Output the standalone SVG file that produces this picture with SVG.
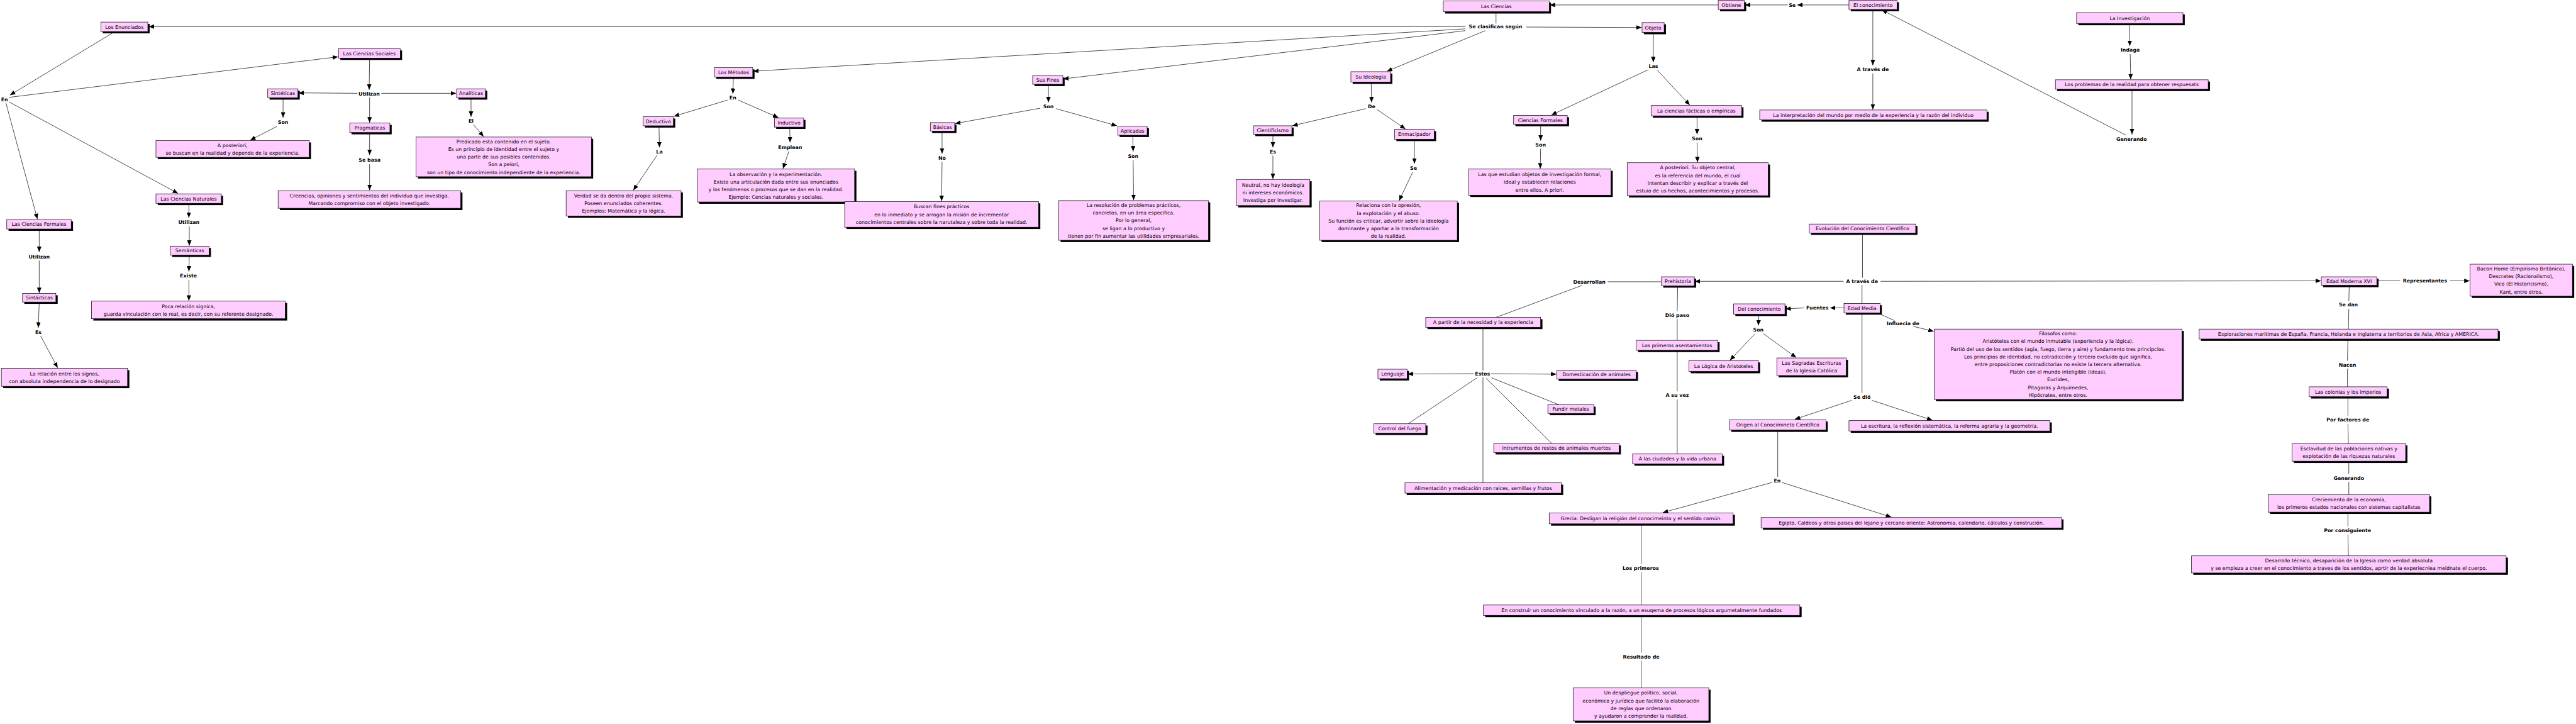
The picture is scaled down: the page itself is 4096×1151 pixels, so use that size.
<svg xmlns="http://www.w3.org/2000/svg" width="4096" height="1151" viewBox="0 0 4096 1151">
<style>
.s{fill:#000}
.b{fill:#FFCCFF;stroke:#000;stroke-width:1}
.t{font-family:"DejaVu Sans",Verdana,sans-serif;font-size:11px;fill:#000;text-anchor:middle}
.l{font-family:"DejaVu Sans",Verdana,sans-serif;font-size:11px;font-weight:bold;fill:#000;text-anchor:middle}
.c{stroke:#000;stroke-width:1;fill:none}
.a{marker-end:url(#ah)}
</style>
<defs>
<marker id="ah" markerUnits="userSpaceOnUse" markerWidth="12" markerHeight="10" refX="12" refY="5" orient="auto"><path d="M0,0 L12,5 L0,10 z" fill="#000"/></marker>
</defs>
<rect x="0" y="0" width="4096" height="1151" fill="#fff"/>
<g transform="scale(0.71671)">
<g id="connectors">
<line class="c a" x1="3251" y1="59" x2="330" y2="59"/>
<line class="c a" x1="3386" y1="60" x2="3642" y2="61"/>
<line class="c a" x1="3251" y1="64" x2="1671" y2="158"/>
<line class="c a" x1="3251" y1="68" x2="2359" y2="175"/>
<line class="c a" x1="3295" y1="68" x2="3077" y2="158"/>
<line class="c" x1="3319" y1="26" x2="3319" y2="52"/>
<line class="c a" x1="3812" y1="11" x2="3438" y2="11"/>
<line class="c a" x1="3966" y1="11" x2="3871" y2="11"/>
<line class="c a" x1="4102" y1="11" x2="3987" y2="11"/>
<line class="c a" x1="4155" y1="21" x2="4155" y2="145"/>
<line class="c a" x1="4155" y1="163" x2="4155" y2="243"/>
<line class="c a" x1="4717" y1="300" x2="4175" y2="22"/>
<line class="c a" x1="4725" y1="52" x2="4725" y2="102"/>
<line class="c a" x1="4726" y1="120" x2="4727" y2="176"/>
<line class="c a" x1="4730" y1="198" x2="4730" y2="298"/>
<line class="c a" x1="3668" y1="72" x2="3668" y2="138"/>
<line class="c a" x1="3656" y1="155" x2="3442" y2="255"/>
<line class="c a" x1="3676" y1="155" x2="3749" y2="233"/>
<line class="c a" x1="3418" y1="276" x2="3418" y2="312"/>
<line class="c a" x1="3418" y1="330" x2="3417" y2="374"/>
<line class="c a" x1="3765" y1="257" x2="3765" y2="298"/>
<line class="c a" x1="3765" y1="316" x2="3766" y2="360"/>
<line class="c a" x1="3042" y1="182" x2="3043" y2="227"/>
<line class="c a" x1="3030" y1="241" x2="2867" y2="279"/>
<line class="c a" x1="3055" y1="243" x2="3118" y2="286"/>
<line class="c a" x1="2824" y1="298" x2="2824" y2="327"/>
<line class="c a" x1="2824" y1="345" x2="2824" y2="397"/>
<line class="c a" x1="3138" y1="309" x2="3138" y2="363"/>
<line class="c a" x1="3134" y1="382" x2="3104" y2="445"/>
<line class="c a" x1="2326" y1="187" x2="2326" y2="227"/>
<line class="c a" x1="2308" y1="240" x2="2119" y2="274"/>
<line class="c a" x1="2343" y1="241" x2="2478" y2="279"/>
<line class="c a" x1="2090" y1="291" x2="2090" y2="341"/>
<line class="c a" x1="2090" y1="359" x2="2089" y2="446"/>
<line class="c a" x1="2513" y1="300" x2="2514" y2="336"/>
<line class="c a" x1="2514" y1="355" x2="2515" y2="444"/>
<line class="c a" x1="1627" y1="171" x2="1626" y2="208"/>
<line class="c a" x1="1614" y1="222" x2="1495" y2="258"/>
<line class="c a" x1="1638" y1="222" x2="1727" y2="261"/>
<line class="c a" x1="1462" y1="279" x2="1463" y2="327"/>
<line class="c a" x1="1458" y1="344" x2="1405" y2="422"/>
<line class="c a" x1="1752" y1="282" x2="1753" y2="316"/>
<line class="c a" x1="1750" y1="336" x2="1737" y2="374"/>
<line class="c a" x1="255" y1="70" x2="22" y2="211"/>
<line class="c a" x1="20" y1="216" x2="750" y2="126"/>
<line class="c a" x1="20" y1="226" x2="395" y2="429"/>
<line class="c a" x1="13" y1="228" x2="83" y2="486"/>
<line class="c a" x1="820" y1="129" x2="819" y2="199"/>
<line class="c a" x1="793" y1="207" x2="662" y2="206"/>
<line class="c a" x1="846" y1="207" x2="1012" y2="207"/>
<line class="c a" x1="820" y1="216" x2="820" y2="272"/>
<line class="c a" x1="628" y1="217" x2="628" y2="261"/>
<line class="c a" x1="615" y1="280" x2="555" y2="311"/>
<line class="c a" x1="820" y1="294" x2="820" y2="344"/>
<line class="c a" x1="820" y1="364" x2="820" y2="422"/>
<line class="c a" x1="1045" y1="217" x2="1045" y2="259"/>
<line class="c a" x1="1050" y1="276" x2="1073" y2="303"/>
<line class="c a" x1="87" y1="508" x2="87" y2="559"/>
<line class="c a" x1="87" y1="578" x2="87" y2="650"/>
<line class="c a" x1="87" y1="670" x2="85" y2="727"/>
<line class="c a" x1="90" y1="745" x2="128" y2="816"/>
<line class="c a" x1="419" y1="451" x2="419" y2="483"/>
<line class="c a" x1="420" y1="502" x2="420" y2="545"/>
<line class="c a" x1="420" y1="566" x2="419" y2="602"/>
<line class="c a" x1="419" y1="621" x2="419" y2="667"/>
<line class="c" x1="4132" y1="517" x2="4132" y2="616"/>
<line class="c a" x1="4090" y1="624" x2="3760" y2="624"/>
<line class="c a" x1="4172" y1="624" x2="5149" y2="623"/>
<line class="c" x1="4131" y1="632" x2="4131" y2="673"/>
<line class="c a" x1="4091" y1="683" x2="4060" y2="683"/>
<line class="c a" x1="4003" y1="683" x2="3961" y2="685"/>
<line class="c" x1="4165" y1="694" x2="4203" y2="711"/>
<line class="c a" x1="4245" y1="724" x2="4290" y2="735"/>
<line class="c" x1="4131" y1="694" x2="4131" y2="872"/>
<line class="c a" x1="4108" y1="888" x2="3982" y2="930"/>
<line class="c a" x1="4153" y1="888" x2="4287" y2="932"/>
<line class="c a" x1="3902" y1="697" x2="3901" y2="722"/>
<line class="c a" x1="3893" y1="741" x2="3838" y2="799"/>
<line class="c a" x1="3912" y1="740" x2="3985" y2="793"/>
<line class="c" x1="3686" y1="625" x2="3567" y2="625"/>
<line class="c" x1="3510" y1="633" x2="3319" y2="704"/>
<line class="c" x1="3290" y1="726" x2="3290" y2="822"/>
<line class="c a" x1="3270" y1="829" x2="3123" y2="829.5"/>
<line class="c a" x1="3308" y1="829" x2="3453" y2="830"/>
<line class="c" x1="3309" y1="838" x2="3459" y2="898"/>
<line class="c" x1="3277" y1="838" x2="3124" y2="940"/>
<line class="c" x1="3297" y1="839" x2="3443" y2="984"/>
<line class="c" x1="3290" y1="837" x2="3290" y2="1071"/>
<line class="c" x1="3722" y1="634" x2="3721" y2="690"/>
<line class="c" x1="3721" y1="708" x2="3721" y2="755"/>
<line class="c" x1="3721" y1="777" x2="3721" y2="868"/>
<line class="c" x1="3721" y1="886" x2="3721" y2="1007"/>
<line class="c" x1="3944" y1="954" x2="3944" y2="1058"/>
<line class="c a" x1="3932" y1="1070" x2="3689" y2="1137"/>
<line class="c a" x1="3953" y1="1070" x2="4196" y2="1147"/>
<line class="c" x1="3641" y1="1162" x2="3641" y2="1251"/>
<line class="c" x1="3641" y1="1269" x2="3641" y2="1342"/>
<line class="c" x1="3641" y1="1365" x2="3641" y2="1448"/>
<line class="c" x1="3641" y1="1466" x2="3641" y2="1526"/>
<line class="c" x1="5273" y1="623" x2="5325" y2="623"/>
<line class="c a" x1="5435" y1="623" x2="5479" y2="623"/>
<line class="c" x1="5212" y1="633" x2="5211" y2="668"/>
<line class="c" x1="5211" y1="685" x2="5210" y2="730"/>
<line class="c" x1="5209" y1="752" x2="5208" y2="800"/>
<line class="c" x1="5208" y1="818" x2="5208" y2="858"/>
<line class="c" x1="5209" y1="880" x2="5209" y2="922"/>
<line class="c" x1="5209" y1="940" x2="5210" y2="984"/>
<line class="c" x1="5211" y1="1023" x2="5211" y2="1051"/>
<line class="c" x1="5211" y1="1069" x2="5211" y2="1097"/>
<line class="c" x1="5209" y1="1136" x2="5209" y2="1168"/>
<line class="c" x1="5209" y1="1186" x2="5210" y2="1233"/>
</g>

<g id="n-enunciados"><rect class="s" x="228" y="53" width="104" height="21"/><rect class="b" x="224" y="49" width="104" height="21"/><text class="t" x="276" y="63.5">Los Enunciados</text></g>
<g id="n-sociales"><rect class="s" x="755" y="112" width="137" height="21"/><rect class="b" x="751" y="108" width="137" height="21"/><text class="t" x="819.5" y="122.5">Las Ciencias Sociales</text></g>
<g id="n-naturales"><rect class="s" x="350" y="434" width="145" height="21"/><rect class="b" x="346" y="430" width="145" height="21"/><text class="t" x="418.5" y="444.5">Las Ciencias Naturales</text></g>
<g id="n-formales1"><rect class="s" x="19" y="491" width="143" height="21"/><rect class="b" x="15" y="487" width="143" height="21"/><text class="t" x="86.5" y="501.5">Las Ciencias Formales</text></g>
<g id="n-sinteticas"><rect class="s" x="598" y="201" width="67" height="20"/><rect class="b" x="594" y="197" width="67" height="20"/><text class="t" x="627.5" y="211">Sintéticas</text></g>
<g id="n-analiticas"><rect class="s" x="1017" y="201" width="64" height="20"/><rect class="b" x="1013" y="197" width="64" height="20"/><text class="t" x="1045" y="211">Analíticas</text></g>
<g id="n-pragmaticas"><rect class="s" x="780" y="277" width="89" height="21"/><rect class="b" x="776" y="273" width="89" height="21"/><text class="t" x="820.5" y="287.5">Pragmaticas</text></g>
<g id="n-aposteriori1"><rect class="s" x="350" y="316" width="340" height="37"/><rect class="b" x="346" y="312" width="340" height="37"/><text class="t"><tspan x="516" y="326">A posteriori,</tspan><tspan x="516" y="343">se buscan en la realidad y depende de la experiencia.</tspan></text></g>
<g id="n-creencias"><rect class="s" x="621" y="427" width="405" height="39"/><rect class="b" x="617" y="423" width="405" height="39"/><text class="t"><tspan x="819.5" y="438">Creencias, opiniones y sentimientos del individuo que investiga.</tspan><tspan x="819.5" y="455">Marcando compromiso con el objeto investigado.</tspan></text></g>
<g id="n-predicado"><rect class="s" x="927" y="308" width="389" height="88"/><rect class="b" x="923" y="304" width="389" height="88"/><text class="t"><tspan x="1117.5" y="318">Predicado esta contenido en el sujeto.</tspan><tspan x="1117.5" y="335">Es un principio de identidad entre el sujeto y</tspan><tspan x="1117.5" y="352">una parte de sus posibles contenidos.</tspan><tspan x="1117.5" y="369">Son a peiori,</tspan><tspan x="1117.5" y="386">son un tipo de conocimiento independiente de la experiencia.</tspan></text></g>
<g id="n-semanticas"><rect class="s" x="382" y="550" width="86" height="20"/><rect class="b" x="378" y="546" width="86" height="20"/><text class="t" x="421" y="560">Semánticas</text></g>
<g id="n-poca"><rect class="s" x="207" y="672" width="430" height="39"/><rect class="b" x="203" y="668" width="430" height="39"/><text class="t"><tspan x="418" y="683">Poca relación signica,</tspan><tspan x="418" y="700">guarda vinculación con lo real, es decir, con su referente designado.</tspan></text></g>
<g id="n-sintacticas"><rect class="s" x="54" y="655" width="74" height="19"/><rect class="b" x="50" y="651" width="74" height="19"/><text class="t" x="87" y="664.5">Sintácticas</text></g>
<g id="n-relacion"><rect class="s" x="7" y="821" width="280" height="40"/><rect class="b" x="3" y="817" width="280" height="40"/><text class="t"><tspan x="143" y="832.5">La relación entre los signos,</tspan><tspan x="143" y="849.5">con absoluta independencia de lo designado</tspan></text></g>
<g id="n-metodos"><rect class="s" x="1589" y="154" width="85" height="21"/><rect class="b" x="1585" y="150" width="85" height="21"/><text class="t" x="1627.5" y="164.5">Los Métodos</text></g>
<g id="n-deductivo"><rect class="s" x="1431" y="263" width="67" height="20"/><rect class="b" x="1427" y="259" width="67" height="20"/><text class="t" x="1460.5" y="273">Deductivo</text></g>
<g id="n-inductivo"><rect class="s" x="1722" y="266" width="65" height="20"/><rect class="b" x="1718" y="262" width="65" height="20"/><text class="t" x="1750.5" y="276">Inductivo</text></g>
<g id="n-verdad"><rect class="s" x="1260" y="427" width="255" height="56"/><rect class="b" x="1256" y="423" width="255" height="56"/><text class="t"><tspan x="1383.5" y="438">Verdad se da dentro del propio sistema.</tspan><tspan x="1383.5" y="455">Poseen enunciados coherentes.</tspan><tspan x="1383.5" y="472">Ejemplos: Matemática y la lógica.</tspan></text></g>
<g id="n-observacion"><rect class="s" x="1551" y="379" width="349" height="73"/><rect class="b" x="1547" y="375" width="349" height="73"/><text class="t"><tspan x="1721.5" y="390">La observación y la experimentación.</tspan><tspan x="1721.5" y="407">Existe una articulación dada entre sus enunciados</tspan><tspan x="1721.5" y="424">y los fenómenos o procesos que se dan en la realidad.</tspan><tspan x="1721.5" y="441">Ejemplo: Cencias naturales y sociales.</tspan></text></g>
<g id="n-fines"><rect class="s" x="2295" y="172" width="67" height="19"/><rect class="b" x="2291" y="168" width="67" height="19"/><text class="t" x="2324.5" y="181.5">Sus Fines</text></g>
<g id="n-basicas"><rect class="s" x="2068" y="276" width="54" height="19"/><rect class="b" x="2064" y="272" width="54" height="19"/><text class="t" x="2091" y="285.5">Básicas</text></g>
<g id="n-aplicadas"><rect class="s" x="2484" y="284" width="65" height="20"/><rect class="b" x="2480" y="280" width="65" height="20"/><text class="t" x="2512.5" y="294">Aplicadas</text></g>
<g id="n-buscan"><rect class="s" x="1878" y="451" width="430" height="57"/><rect class="b" x="1874" y="447" width="430" height="57"/><text class="t"><tspan x="2089" y="462.5">Buscan fines prácticos</tspan><tspan x="2089" y="479.5">en lo inmediato y se arrogan la misión de incrementar</tspan><tspan x="2089" y="496.5">conocimientos centrales sobre la narutaleza y sobre toda la realidad.</tspan></text></g>
<g id="n-resolucion"><rect class="s" x="2353" y="449" width="332" height="88"/><rect class="b" x="2349" y="445" width="332" height="88"/><text class="t"><tspan x="2515" y="459">La resolución de problemas prácticos,</tspan><tspan x="2515" y="476">concretos, en un área especifíca.</tspan><tspan x="2515" y="493">Por lo general,</tspan><tspan x="2515" y="510">se ligan a lo productivo y</tspan><tspan x="2515" y="527">tienen por fin aumentar las utilidades empresariales.</tspan></text></g>
<g id="n-ideologia"><rect class="s" x="3001" y="163" width="88" height="23"/><rect class="b" x="2997" y="159" width="88" height="23"/><text class="t" x="3041" y="174.5">Su Ideología</text></g>
<g id="n-cientificismo"><rect class="s" x="2785" y="283" width="85" height="19"/><rect class="b" x="2781" y="279" width="85" height="19"/><text class="t" x="2823.5" y="292.5">Cientificismo</text></g>
<g id="n-enmacipador"><rect class="s" x="3098" y="291" width="88" height="22"/><rect class="b" x="3094" y="287" width="88" height="22"/><text class="t" x="3138" y="302">Enmacipador</text></g>
<g id="n-neutral"><rect class="s" x="2747" y="402" width="163" height="58"/><rect class="b" x="2743" y="398" width="163" height="58"/><text class="t"><tspan x="2824.5" y="414">Neutral, no hay ideología</tspan><tspan x="2824.5" y="431">ni intereses económicos.</tspan><tspan x="2824.5" y="448">Investiga por investigar.</tspan></text></g>
<g id="n-relaciona"><rect class="s" x="2932" y="450" width="305" height="87"/><rect class="b" x="2928" y="446" width="305" height="87"/><text class="t"><tspan x="3080.5" y="459.5">Relaciona con la opresión,</tspan><tspan x="3080.5" y="476.5">la explotación y el abuso.</tspan><tspan x="3080.5" y="493.5">Su función es criticar, advertir sobre la ideología</tspan><tspan x="3080.5" y="510.5">dominante y aportar a la transformación</tspan><tspan x="3080.5" y="527.5">de la realidad.</tspan></text></g>
<g id="n-ciencias"><rect class="s" x="3206" y="6" width="235" height="24"/><rect class="b" x="3202" y="2" width="235" height="24"/><text class="t" x="3319.5" y="18">Las Ciencias</text></g>
<g id="n-obtiene"><rect class="s" x="3816" y="5" width="58" height="20"/><rect class="b" x="3812" y="1" width="58" height="20"/><text class="t" x="3841" y="15">Obtiene</text></g>
<g id="n-conocimiento"><rect class="s" x="4106" y="5" width="107" height="20"/><rect class="b" x="4102" y="1" width="107" height="20"/><text class="t" x="4155.5" y="15">El conocimiento</text></g>
<g id="n-objeto"><rect class="s" x="3647" y="54" width="49" height="22"/><rect class="b" x="3643" y="50" width="49" height="22"/><text class="t" x="3667.5" y="65">Objeto</text></g>
<g id="n-formales2"><rect class="s" x="3362" y="260" width="119" height="20"/><rect class="b" x="3358" y="256" width="119" height="20"/><text class="t" x="3417.5" y="270">Ciencias Formales</text></g>
<g id="n-facticas"><rect class="s" x="3667" y="238" width="201" height="23"/><rect class="b" x="3663" y="234" width="201" height="23"/><text class="t" x="3763.5" y="249.5">La ciencias fácticas o empíricas</text></g>
<g id="n-estudian"><rect class="s" x="3262" y="379" width="316" height="58"/><rect class="b" x="3258" y="375" width="316" height="58"/><text class="t"><tspan x="3416" y="391">Las que estudian objetos de investigación formal,</tspan><tspan x="3416" y="408">ideal y establecen relaciones</tspan><tspan x="3416" y="425">entre ellos. A priori.</tspan></text></g>
<g id="n-aposteriori2"><rect class="s" x="3614" y="365" width="313" height="73"/><rect class="b" x="3610" y="361" width="313" height="73"/><text class="t"><tspan x="3766.5" y="376">A posteriori. Su objeto central,</tspan><tspan x="3766.5" y="393">es la referencia del mundo, el cual</tspan><tspan x="3766.5" y="410">intentan describir y explicar a través del</tspan><tspan x="3766.5" y="427">estuio de us hechos, acontecimientos y procesos.</tspan></text></g>
<g id="n-interpretacion"><rect class="s" x="3908" y="248" width="504" height="22"/><rect class="b" x="3904" y="244" width="504" height="22"/><text class="t" x="4156" y="259">La interpretación del mundo por medio de la experiencia y la razón del individuo</text></g>
<g id="n-investigacion"><rect class="s" x="4611" y="32" width="236" height="24"/><rect class="b" x="4607" y="28" width="236" height="24"/><text class="t" x="4725" y="44">La Investigación</text></g>
<g id="n-problemas"><rect class="s" x="4564" y="181" width="339" height="21"/><rect class="b" x="4560" y="177" width="339" height="21"/><text class="t" x="4729.5" y="191.5">Los problemas de la realidad para obtener respuesats</text></g>
<g id="n-evolucion"><rect class="s" x="4018" y="501" width="236" height="20"/><rect class="b" x="4014" y="497" width="236" height="20"/><text class="t" x="4132" y="511">Evolución del Conocimiento Científico</text></g>
<g id="n-prehistoria"><rect class="s" x="3690" y="618" width="73" height="20"/><rect class="b" x="3686" y="614" width="73" height="20"/><text class="t" x="3722.5" y="628">Prehistoria</text></g>
<g id="n-apartir"><rect class="s" x="3167" y="708" width="255" height="22"/><rect class="b" x="3163" y="704" width="255" height="22"/><text class="t" x="3290.5" y="719">A partir de la necesidad y la experiencia</text></g>
<g id="n-lenguaje"><rect class="s" x="3061" y="823" width="65" height="21"/><rect class="b" x="3057" y="819" width="65" height="21"/><text class="t" x="3089.5" y="833.5">Lenguaje</text></g>
<g id="n-domesticacion"><rect class="s" x="3458" y="825" width="176" height="20"/><rect class="b" x="3454" y="821" width="176" height="20"/><text class="t" x="3542" y="835">Domesticación de animales</text></g>
<g id="n-fundir"><rect class="s" x="3438" y="902" width="102" height="19"/><rect class="b" x="3434" y="898" width="102" height="19"/><text class="t" x="3485" y="911.5">Fundir metales</text></g>
<g id="n-fuego"><rect class="s" x="3052" y="944" width="115" height="21"/><rect class="b" x="3048" y="940" width="115" height="21"/><text class="t" x="3105.5" y="954.5">Control del fuego</text></g>
<g id="n-intrumentos"><rect class="s" x="3318" y="988" width="278" height="20"/><rect class="b" x="3314" y="984" width="278" height="20"/><text class="t" x="3453" y="998">Intrumentos de restos de animales muertos</text></g>
<g id="n-alimentacion"><rect class="s" x="3121" y="1075" width="347" height="23"/><rect class="b" x="3117" y="1071" width="347" height="23"/><text class="t" x="3290.5" y="1086.5">Alimentación y medicación con raices, semillas y frutos</text></g>
<g id="n-asentamientos"><rect class="s" x="3634" y="759" width="181" height="22"/><rect class="b" x="3630" y="755" width="181" height="22"/><text class="t" x="3720.5" y="770">Los primeros asentamientos</text></g>
<g id="n-ciudades"><rect class="s" x="3626" y="1011" width="199" height="22"/><rect class="b" x="3622" y="1007" width="199" height="22"/><text class="t" x="3721.5" y="1022">A las ciudades y la vida urbana</text></g>
<g id="n-delconocimiento"><rect class="s" x="3850" y="678" width="114" height="23"/><rect class="b" x="3846" y="674" width="114" height="23"/><text class="t" x="3903" y="689.5">Del conocimiento</text></g>
<g id="n-logica"><rect class="s" x="3751" y="804" width="154" height="24"/><rect class="b" x="3747" y="800" width="154" height="24"/><text class="t" x="3824" y="816">La Lógica de Aristoteles</text></g>
<g id="n-sagradas"><rect class="s" x="3946" y="798" width="154" height="39"/><rect class="b" x="3942" y="794" width="154" height="39"/><text class="t"><tspan x="4019" y="809">Las Sagradas Escrituras</tspan><tspan x="4019" y="826">de la Iglesia Católica</tspan></text></g>
<g id="n-origen"><rect class="s" x="3841" y="935" width="214" height="23"/><rect class="b" x="3837" y="931" width="214" height="23"/><text class="t" x="3944" y="946.5">Origen al Conocimineto Científico</text></g>
<g id="n-escritura"><rect class="s" x="4106" y="937" width="446" height="23"/><rect class="b" x="4102" y="933" width="446" height="23"/><text class="t" x="4325" y="948.5">La escritura, la reflexión sistemática, la reforma agraria y la geometría.</text></g>
<g id="n-edadmedia"><rect class="s" x="4095" y="677" width="80" height="21"/><rect class="b" x="4091" y="673" width="80" height="21"/><text class="t" x="4131" y="687.5">Edad Media</text></g>
<g id="n-filosofos"><rect class="s" x="4295" y="734" width="550" height="156"/><rect class="b" x="4291" y="730" width="550" height="156"/><text class="t"><tspan x="4566" y="744">Filosofos como:</tspan><tspan x="4566" y="761">Aristóteles con el mundo inmutable (experiencia y la lógica).</tspan><tspan x="4566" y="778">Partió del uso de los sentidos (agia, fuego, tierra y aire) y fundamento tres principcios.</tspan><tspan x="4566" y="795">Los principios de identidad, no cotradicción y tercero excluido que significa,</tspan><tspan x="4566" y="812">entre proposiciones contradictorias no existe la tercera alternativa.</tspan><tspan x="4566" y="829">Platón con el mundo inteligible (ideas),</tspan><tspan x="4566" y="846">Euclides,</tspan><tspan x="4566" y="863">Pitagoras y Arquimedes,</tspan><tspan x="4566" y="880">Hipócrates, entre otros.</tspan></text></g>
<g id="n-grecia"><rect class="s" x="3441" y="1142" width="408" height="24"/><rect class="b" x="3437" y="1138" width="408" height="24"/><text class="t" x="3641" y="1154">Grecia: Desligan la religión del conocimeinto y el sentido común.</text></g>
<g id="n-egipto"><rect class="s" x="3911" y="1152" width="667" height="23"/><rect class="b" x="3907" y="1148" width="667" height="23"/><text class="t" x="4240.5" y="1163.5">Egipto, Caldeos y otros paises del lejano y cercano oriente: Astronomia, calendario, cálculos y construción.</text></g>
<g id="n-construir"><rect class="s" x="3295" y="1346" width="702" height="23"/><rect class="b" x="3291" y="1342" width="702" height="23"/><text class="t" x="3642" y="1357.5">En construir un conocimiento vinculado a la razón, a un esuqema de procesos lógicos argumetalmente fundados</text></g>
<g id="n-despliegue"><rect class="s" x="3494" y="1530" width="301" height="73"/><rect class="b" x="3490" y="1526" width="301" height="73"/><text class="t"><tspan x="3640.5" y="1541">Un despliegue político, social,</tspan><tspan x="3640.5" y="1558">económico y jurídico que facilitó la elaboración</tspan><tspan x="3640.5" y="1575">de reglas que ordenaron</tspan><tspan x="3640.5" y="1592">y ayudaron a comprender la realidad.</tspan></text></g>
<g id="n-moderna"><rect class="s" x="5154" y="618" width="123" height="19"/><rect class="b" x="5150" y="614" width="123" height="19"/><text class="t" x="5211.5" y="627.5">Edad Moderna XVI</text></g>
<g id="n-bacon"><rect class="s" x="5484" y="590" width="227" height="71"/><rect class="b" x="5480" y="586" width="227" height="71"/><text class="t"><tspan x="5593.5" y="600">Bacon Home (Empirismo Británico),</tspan><tspan x="5593.5" y="617">Descrates (Racionalismo),</tspan><tspan x="5593.5" y="634">Vico (El Historicismo),</tspan><tspan x="5593.5" y="651">Kant, entre otros.</tspan></text></g>
<g id="n-exploraciones"><rect class="s" x="4883" y="734" width="663" height="22"/><rect class="b" x="4879" y="730" width="663" height="22"/><text class="t" x="5210.5" y="745">Exploraciones maritimas de España, Francia, Holanda e Inglaterra a territorios de Asia, Africa y AMERICA.</text></g>
<g id="n-colonias"><rect class="s" x="5127" y="862" width="173" height="22"/><rect class="b" x="5123" y="858" width="173" height="22"/><text class="t" x="5209.5" y="873">Las colonias y los Imperios</text></g>
<g id="n-esclavitud"><rect class="s" x="5089" y="988" width="252" height="39"/><rect class="b" x="5085" y="984" width="252" height="39"/><text class="t"><tspan x="5211" y="999">Esclavitud de las poblaciones nativas y</tspan><tspan x="5211" y="1016">explotación de las riquezas naturales</tspan></text></g>
<g id="n-crecimiento"><rect class="s" x="5036" y="1101" width="358" height="39"/><rect class="b" x="5032" y="1097" width="358" height="39"/><text class="t"><tspan x="5211" y="1112">Creciemiento de la economía,</tspan><tspan x="5211" y="1129">los primeros estados nacionales con sistemas capitalistas</tspan></text></g>
<g id="n-desarrollo"><rect class="s" x="4866" y="1237" width="698" height="38"/><rect class="b" x="4862" y="1233" width="698" height="38"/><text class="t"><tspan x="5211" y="1247.5">Desarrollo técnico, desaparición de la Iglesia como verdad absoluta</tspan><tspan x="5211" y="1264.5">y se empieza a creer en el conocimiento a traves de los sentidos, aprtir de la experiecniea meidnate el cuerpo.</tspan></text></g>

<g id="l-en1"><text class="l" x="10" y="224">En</text></g>
<g id="l-utilizan1"><text class="l" x="819" y="212">Utilizan</text></g>
<g id="l-son1"><text class="l" x="628" y="275">Son</text></g>
<g id="l-sebasa"><text class="l" x="820" y="359">Se basa</text></g>
<g id="l-el"><text class="l" x="1045" y="272">El</text></g>
<g id="l-utilizan2"><text class="l" x="87" y="573">Utilizan</text></g>
<g id="l-es1"><text class="l" x="85" y="741">Es</text></g>
<g id="l-utilizan3"><text class="l" x="419" y="497">Utilizan</text></g>
<g id="l-existe"><text class="l" x="418" y="616">Existe</text></g>
<g id="l-en2"><text class="l" x="1626" y="221">En</text></g>
<g id="l-la"><text class="l" x="1463" y="340">La</text></g>
<g id="l-emplean"><text class="l" x="1753" y="330">Emplean</text></g>
<g id="l-son2"><text class="l" x="2326" y="240">Son</text></g>
<g id="l-no"><text class="l" x="2090" y="355">No</text></g>
<g id="l-son3"><text class="l" x="2514" y="350">Son</text></g>
<g id="l-de"><text class="l" x="3043" y="240">De</text></g>
<g id="l-es2"><text class="l" x="2824" y="340">Es</text></g>
<g id="l-se1"><text class="l" x="3136" y="377">Se</text></g>
<g id="l-seclasifican"><text class="l" x="3318" y="63">Se clasifican según</text></g>
<g id="l-se2"><text class="l" x="3976" y="15">Se</text></g>
<g id="l-las"><text class="l" x="3668" y="151">Las</text></g>
<g id="l-son4"><text class="l" x="3418" y="325">Son</text></g>
<g id="l-son5"><text class="l" x="3765" y="311">Son</text></g>
<g id="l-atraves1"><text class="l" x="4155" y="158">A través de</text></g>
<g id="l-indaga"><text class="l" x="4726" y="115">Indaga</text></g>
<g id="l-generando1"><text class="l" x="4729" y="313">Generando</text></g>
<g id="l-atraves2"><text class="l" x="4131" y="628">A través de</text></g>
<g id="l-desarrollan"><text class="l" x="3526" y="629">Desarrollan</text></g>
<g id="l-estos"><text class="l" x="3289" y="833">Estos</text></g>
<g id="l-diopaso"><text class="l" x="3721" y="703">Dió paso</text></g>
<g id="l-asuvez"><text class="l" x="3721" y="881">A su vez</text></g>
<g id="l-son6"><text class="l" x="3901" y="736">Son</text></g>
<g id="l-fuentes"><text class="l" x="4032" y="687">Fuentes</text></g>
<g id="l-influecia"><text class="l" x="4222" y="722">Influecia de</text></g>
<g id="l-sedio"><text class="l" x="4131" y="884">Se dió</text></g>
<g id="l-en3"><text class="l" x="3943" y="1070">En</text></g>
<g id="l-losprimeros"><text class="l" x="3640" y="1264">Los primeros</text></g>
<g id="l-resultado"><text class="l" x="3641" y="1461">Resultado de</text></g>
<g id="l-representantes"><text class="l" x="5380" y="627">Representantes</text></g>
<g id="l-sedan"><text class="l" x="5210" y="680">Se dan</text></g>
<g id="l-nacen"><text class="l" x="5208" y="813">Nacen</text></g>
<g id="l-porfactores"><text class="l" x="5209" y="935">Por factores de</text></g>
<g id="l-generando2"><text class="l" x="5211" y="1064">Generando</text></g>
<g id="l-porconsiguiente"><text class="l" x="5208" y="1181">Por consiguiente</text></g>
</g>
</svg>
